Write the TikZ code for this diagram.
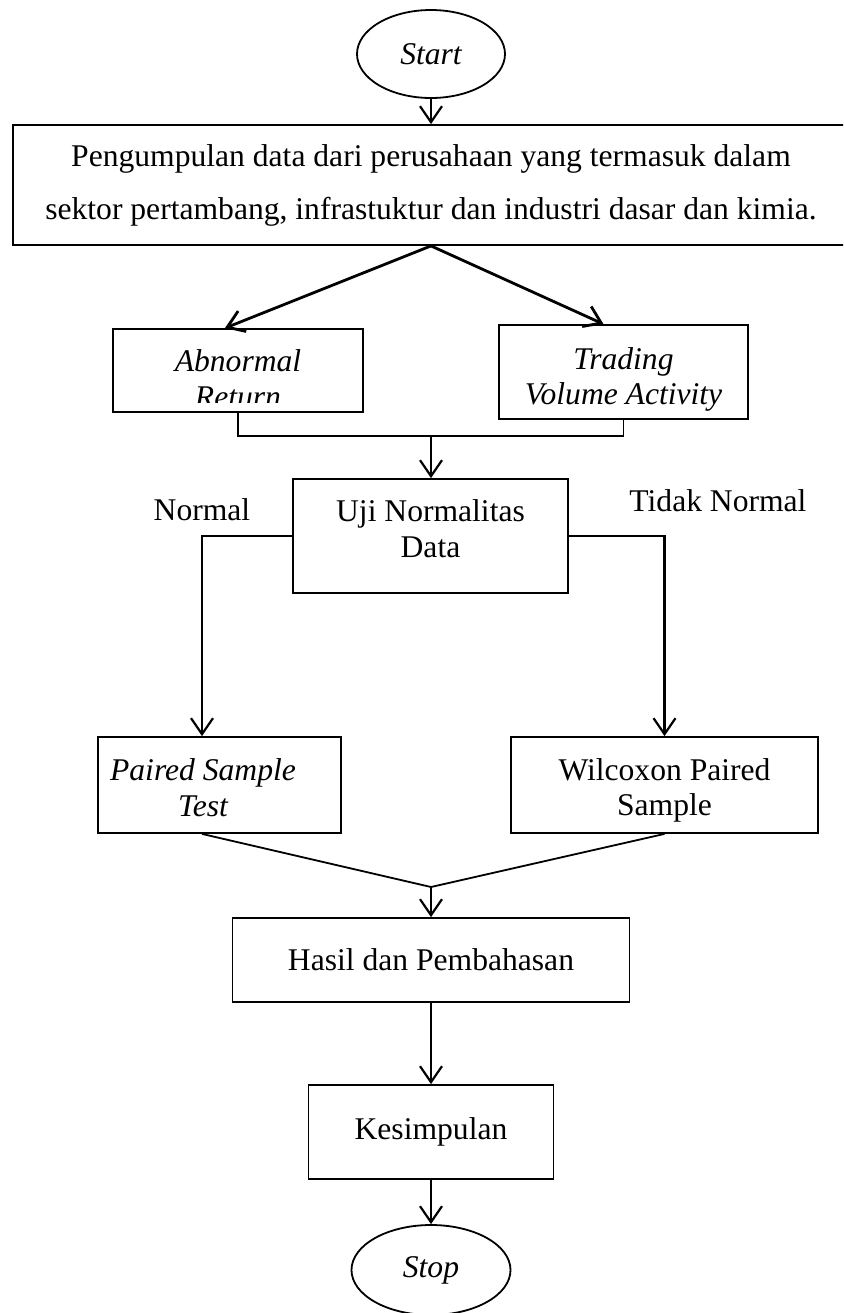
\documentclass[tikz,border=0pt]{standalone}
\usepackage{fontspec}
\setmainfont{Liberation Serif}
\usetikzlibrary{shapes.geometric, arrows.meta}

\tikzset{
	block/.style={rectangle, draw, line width=0.9pt},
	boxtext/.style={align=center, font=\fontsize{15.8}{18}\selectfont},
	emph/.style={font=\fontsize{15.8}{18}\selectfont\itshape},
	terminal/.style={ellipse, draw, line width=0.9pt, text centered, font=\fontsize{15.8}{18}\selectfont\itshape},
	branchtext/.style={anchor=base, font=\fontsize{15.8}{18}\selectfont},
	flow/.style={->, line width=1.1pt},
	joint/.style={-, line width=0.9pt}
}

\begin{document}
\begin{tikzpicture}[x=0.5pt, y=-0.5pt, >={Straight Barb[length=8pt,width=11pt]}]
		
		\clip (0,0) rectangle (843,1313);
		
		%Start
		\node (start) at (431,54) [terminal, minimum width=74pt, minimum height=44pt]{Start};
		
		%Data collection
		\node (collect) at (431,185) [block, boxtext, minimum width=418pt, minimum height=60pt, 
		font=\fontsize{15.8}{26.5}\selectfont]{Pengumpulan data dari perusahaan yang termasuk dalam\\sektor pertambang, infrastuktur dan industri dasar dan kimia.};
		
		%Variables
		\node (abnormal) at (238,370.5) [block, minimum width=125pt, minimum height=41.5pt]{};
		\begin{scope}
			\clip (113,329) rectangle (363,402);
			\node (abnormaltext) at (238,379) [boxtext, emph, font=\fontsize{15.8}{18}\selectfont\itshape]{Abnormal\\Return};
		\end{scope}
		\node (trading) at (623.5,372) [block, minimum width=124.5pt, minimum height=47pt]{};
		\node (tradingtext) at (623.5,379) [boxtext, emph, font=\fontsize{15.8}{17.5}\selectfont\itshape]{Trading\\Volume Activity};
		\coordinate (join) at (431,436);
		
		%Normality test
		\node (uji) at (430.5,536) [block, minimum width=137.5pt, minimum height=57pt]{};
		\node (ujitext) at (430.5,529) [boxtext]{Uji Normalitas\\Data};
		\node (normal) at (202,520) [branchtext]{Normal};
		\node (tidaknormal) at (718,511) [branchtext]{Tidak Normal};
		
		%Tests
		\node (paired) at (219.5,785) [block, minimum width=121.5pt, minimum height=48pt]{};
		\node (pairedtext) at (203,788) [boxtext, emph]{Paired Sample\\Test};
		\node (wilcoxon) at (664.5,785) [block, minimum width=153.5pt, minimum height=48pt]{};
		\node (wilcoxontext) at (664.5,790) [boxtext, font=\fontsize{15.8}{17.5}\selectfont]{Wilcoxon Paired\\Sample};
		\coordinate (merge) at (431,887);
		
		%Result
		\node (hasil) at (431,960) [block, boxtext, minimum width=198.5pt, minimum height=42pt]{Hasil dan Pembahasan};
		\node (kesimpulan) at (431,1132) [block, boxtext, minimum width=122.5pt, minimum height=47pt]{Kesimpulan};
		\node (stop) at (431,1270) [terminal, minimum width=79.5pt, minimum height=45pt]{Stop};
		
		%Arrows
		\draw[flow] (start) -- (collect);
		\draw[flow, line width=1.4pt] (collect.south) -- ([xshift=-6.5pt]abnormal.north);
		\draw[flow, line width=1.4pt] (collect.south) -- ([xshift=-10pt]trading.north);
		\draw[joint] (abnormal.south) |- (join) -| (trading.south);
		\draw[flow] (join) -- (join |- uji.north);
		\draw[flow] (uji.west) -| ([xshift=-8.75pt]paired.north);
		\draw[flow] (uji.east) -| (wilcoxon.north);
		\draw[joint] ([xshift=-8.75pt]paired.south) -- (merge) -- (wilcoxon.south);
		\draw[flow] (merge) -- (merge |- hasil.north);
		\draw[flow] (hasil) -- (kesimpulan);
		\draw[flow] (kesimpulan) -- (stop);
		
\end{tikzpicture}
\end{document}
